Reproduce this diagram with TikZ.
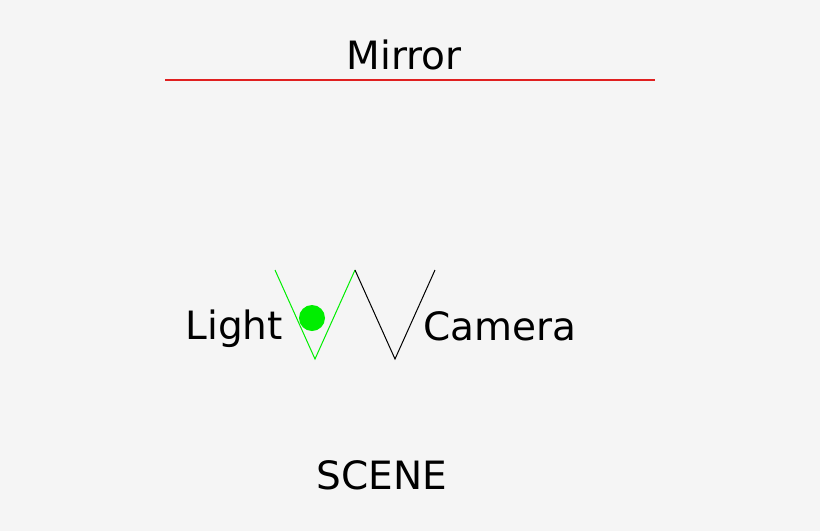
\documentclass[tikz,border=0pt]{standalone}
\usepackage{fontspec}
\setmainfont{DejaVu Sans}
\definecolor{backgr}{HTML}{F5F5F5}
\definecolor{mirrorred}{HTML}{E02020}
\definecolor{lightgreen}{HTML}{00EE00}
\newcommand{\labelfont}{\fontsize{39}{47}\selectfont}
\tikzset{every path/.style={line width=1 pt},
  lbl/.style={inner sep=0pt, anchor=base, font=\labelfont}}

\begin{document}
\begin{tikzpicture}[x=1pt,y=-1pt]
\fill[backgr] (0,0) rectangle (820,531);
\useasboundingbox (0,0) rectangle (820,531);

%mirror
\draw[mirrorred, line width=2pt] (165,79.5) -- (655,79.5);
\node[lbl] (mirror) at (404,69) {Mirror};

%light
\draw[lightgreen] (275,270) -- (315,359) -- (355,270);
\fill[lightgreen] (312,318) circle[radius=13];
\node[lbl, anchor=base west] (light) at (185,339) {Light};

%camera
\draw (355,270) -- (395,359) -- (435,270);
\node[lbl, anchor=base west] (camera) at (423,340) {Camera};

%scene
\node[lbl] (scene) at (382,489) {SCENE};
\end{tikzpicture}
\end{document}
